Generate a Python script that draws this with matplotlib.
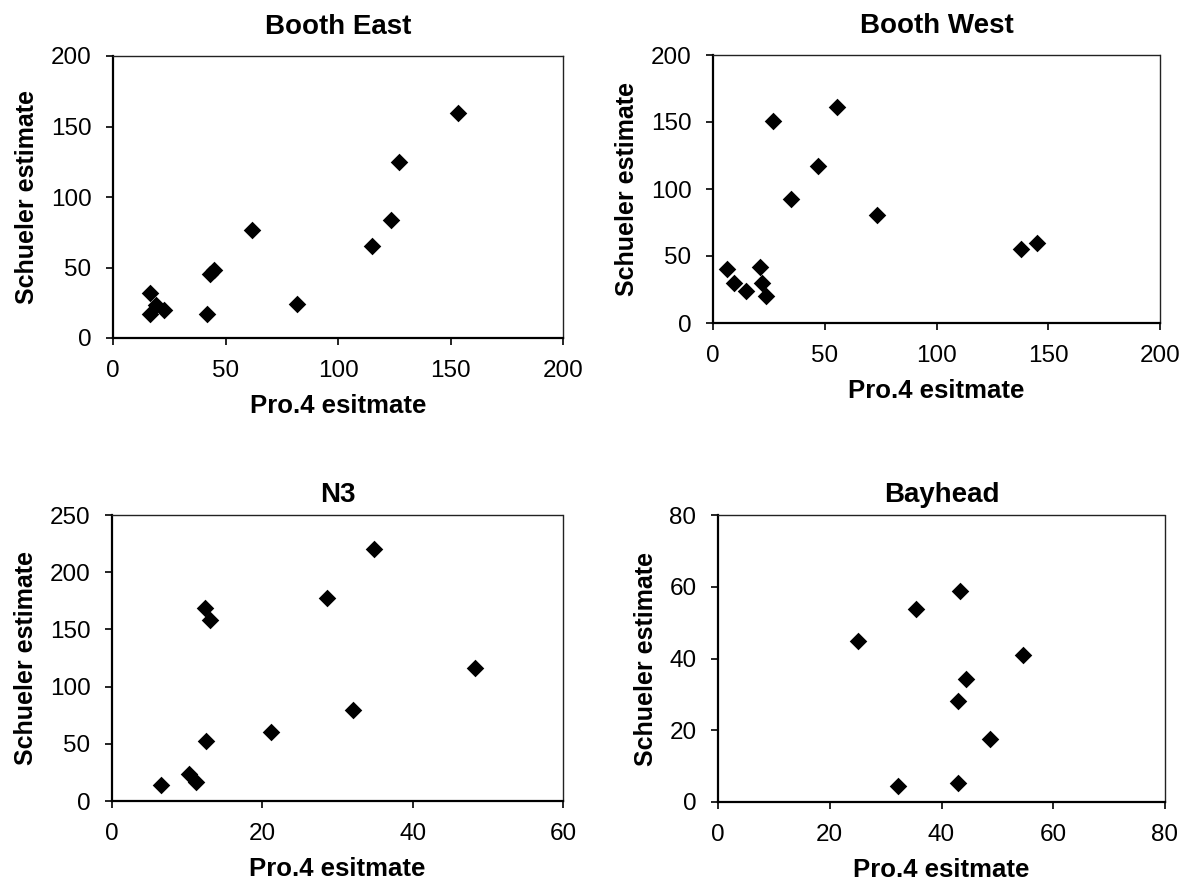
import matplotlib
matplotlib.use("Agg")
import matplotlib.pyplot as plt

plt.rcParams["font.family"] = ["Liberation Sans", "DejaVu Sans"]

# Booth East
east_pro4 = [16.3, 16.3, 19.3, 22.5, 41.9, 43.0, 44.9, 61.8, 81.6, 115.3, 123.4, 127.0, 153.3]
east_schueler = [32.2, 16.8, 23.7, 20.1, 16.8, 45.7, 48.1, 76.8, 24.4, 65.6, 83.9, 125.1, 159.5]

# Booth West
west_pro4 = [6.3, 9.2, 14.6, 20.9, 21.8, 23.7, 27.0, 35.0, 47.0, 55.6, 73.4, 137.8, 145.0]
west_schueler = [40.2, 29.6, 23.9, 41.5, 30.1, 20.4, 151.1, 92.4, 117.5, 161.0, 80.5, 55.2, 59.6]

# N3
n3_pro4 = [6.5, 10.3, 11.2, 12.5, 12.4, 13.1, 21.2, 28.6, 32.0, 34.8, 48.3]
n3_schueler = [13.7, 23.3, 16.9, 52.7, 169.0, 158.2, 60.0, 177.7, 79.3, 220.0, 116.6]

# Bayhead
bay_pro4 = [25.1, 35.5, 43.3, 54.6, 44.3, 43.0, 48.7, 32.2, 42.9]
bay_schueler = [45.0, 53.9, 58.9, 41.0, 34.2, 28.1, 17.5, 4.5, 5.2]

titles = ["Booth East", "Booth West", "N3", "Bayhead"]
x_label = "Pro.4 esitmate"
y_label = "Schueler estimate"

W, H = 1199, 884
fig = plt.figure(figsize=(W / 100, H / 100), dpi=100)
fig.patch.set_facecolor("white")


def px_axes(left, top, right, bottom):
    return fig.add_axes([left / W, 1 - bottom / H, (right - left) / W, (bottom - top) / H])


panels = [
    dict(box=(113, 56, 563, 338), x=east_pro4, y=east_schueler,
         xlim=200, xstep=50, ylim=200, ystep=50, tpad=15.5),
    dict(box=(713, 55, 1160, 323), x=west_pro4, y=west_schueler,
         xlim=200, xstep=50, ylim=200, ystep=50, tpad=15.5),
    dict(box=(112, 515, 563, 801), x=n3_pro4, y=n3_schueler,
         xlim=60, xstep=20, ylim=250, ystep=50, tpad=9.5),
    dict(box=(718, 515, 1165, 802), x=bay_pro4, y=bay_schueler,
         xlim=80, xstep=20, ylim=80, ystep=20, tpad=9.5),
]

for p, title in zip(panels, titles):
    ax = px_axes(*p["box"])
    ax.scatter(p["x"], p["y"], marker="D", s=80, color="black", linewidths=0, zorder=3)
    ax.set_xlim(0, p["xlim"])
    ax.set_ylim(0, p["ylim"])
    ax.set_xticks(range(0, p["xlim"] + 1, p["xstep"]))
    ax.set_yticks(range(0, p["ylim"] + 1, p["ystep"]))

    for side in ("left", "bottom"):
        ax.spines[side].set_linewidth(1.6)
        ax.spines[side].set_color("black")
    for side in ("top", "right"):
        ax.spines[side].set_linewidth(1.0)
        ax.spines[side].set_color("#222222")
        ax.spines[side].set_linestyle((0, (1.5, 1)))

    ax.tick_params(axis="both", direction="out", length=5, width=1.2,
                   labelsize=17.5, colors="black")
    ax.tick_params(axis="x", pad=10.5)
    ax.tick_params(axis="y", pad=10.5)

    ax.set_title(title, fontsize=20, fontweight="bold", pad=p["tpad"])
    ax.set_xlabel(x_label, fontsize=18.5, fontweight="bold", labelpad=9)
    ax.set_ylabel(y_label, fontsize=18, fontweight="bold", labelpad=8.5)

fig.savefig("out.png", dpi=100, facecolor="white")
